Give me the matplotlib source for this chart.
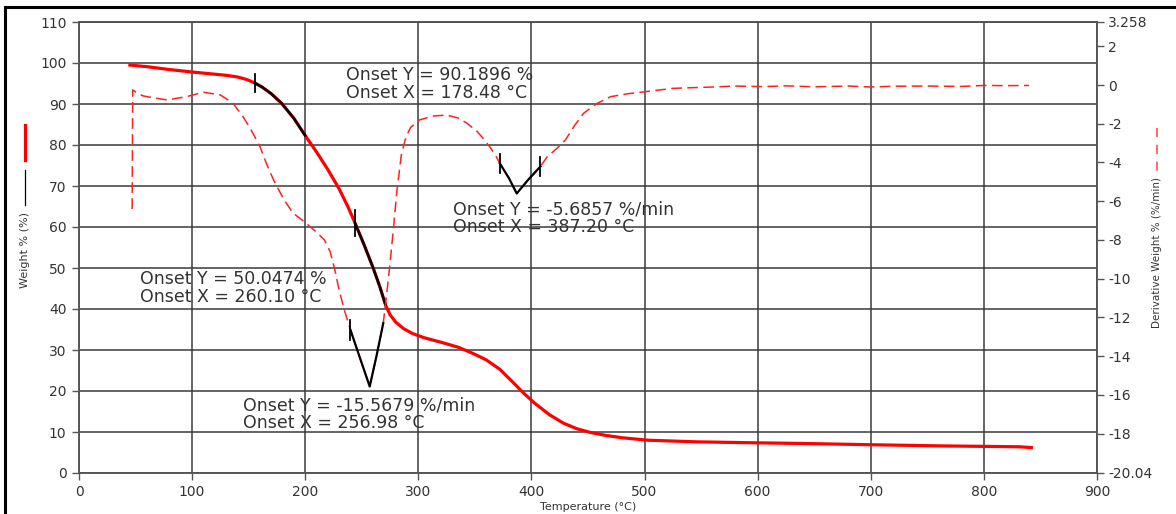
import numpy as np
import matplotlib.pyplot as plt
from matplotlib.lines import Line2D
from matplotlib.patches import Rectangle

plt.rcParams['font.family'] = 'DejaVu Sans'
plt.rcParams['axes.unicode_minus'] = False

# weight % curve (left axis)
temp_w = [45, 60, 80, 100, 115, 130, 140, 148, 155, 162, 170, 179, 190, 200, 210,
          220, 230, 238, 244, 252, 260, 266, 271, 275, 280, 287, 295, 305, 320,
          335, 348, 360, 372, 383, 393, 403, 416, 428, 440, 452, 465, 480, 503,
          546, 590, 640, 699, 765, 831, 842]
weight = [99.5, 99.1, 98.4, 97.8, 97.4, 97.0, 96.6, 96.0, 95.2, 94.1, 92.5, 90.2,
          86.5, 82.3, 78.3, 74.0, 69.3, 64.8, 61.0, 55.7, 50.05, 45.4, 41.0, 38.6,
          36.8, 35.2, 34.0, 33.0, 31.9, 30.7, 29.2, 27.6, 25.3, 22.3, 19.5, 17.0,
          14.2, 12.2, 10.8, 9.9, 9.2, 8.6, 8.0, 7.6, 7.4, 7.2, 6.9, 6.6, 6.4, 6.2]

# derivative weight curve (right axis)
temp_d = [47, 47.5, 50, 56, 63, 78, 95, 110, 125, 136, 145, 152, 160, 166, 172,
          181, 189, 200, 210, 217, 222, 226, 230, 235, 240, 249, 257, 263, 269,
          272, 275, 278, 281, 285, 289, 293, 301, 313, 325, 335, 343, 352, 358,
          363, 368, 372, 380, 387, 397, 408, 414, 422, 430, 438, 446, 458, 470,
          485, 501, 525, 560, 580, 604, 625, 650, 680, 700, 720, 750, 780, 800,
          820, 840]
deriv = [-6.4, -0.25, -0.35, -0.55, -0.63, -0.77, -0.6, -0.37, -0.51, -0.93, -1.63,
         -2.3, -3.18, -4.1, -4.9, -5.9, -6.6, -7.1, -7.6, -8.0, -8.6, -9.5, -10.6,
         -11.7, -12.65, -14.2, -15.57, -14.0, -12.3, -10.8, -9.2, -7.4, -5.5,
         -3.6, -2.7, -2.2, -1.8, -1.6, -1.55, -1.7, -1.97, -2.4, -2.8, -3.18,
         -3.6, -4.04, -4.8, -5.6, -4.9, -4.2, -3.7, -3.3, -2.84, -2.1, -1.46,
         -0.95, -0.6, -0.45, -0.34, -0.17, -0.1, -0.05, -0.08, -0.04, -0.09,
         -0.05, -0.1, -0.06, -0.05, -0.07, -0.02, -0.03, -0.02]

x_ticks = list(range(0, 1000, 100))
w_ticks = list(range(0, 120, 10))
d_ticks = [-20.04, -18, -16, -14, -12, -10, -8, -6, -4, -2, 0, 2, 3.258]
d_labels = ['-20.04', '-18', '-16', '-14', '-12', '-10', '-8', '-6', '-4', '-2',
            '0', '2', '3.258']

# onset analysis ranges (start, end)
onset_w = [(155.5, 200), (244, 271)]
onset_d = [(240, 269), (372, 408)]
labels_w = ['Onset Y = 90.1896 %\nOnset X = 178.48 °C',
            'Onset Y = 50.0474 %\nOnset X = 260.10 °C']
labels_d = ['Onset Y = -15.5679 %/min\nOnset X = 256.98 °C',
            'Onset Y = -5.6857 %/min\nOnset X = 387.20 °C']

W, H = 1176, 514
fig = plt.figure(figsize=(W / 100, H / 100), dpi=100)
ax = fig.add_axes([79 / W, 1 - 473 / H, (1097 - 79) / W, (473 - 22) / H])
ax2 = ax.twinx()

grid_c = '#3a3a3a'
txt_c = '#333333'

ax.plot(temp_w, weight, color='#ff0000', lw=2.3, zorder=3)
ax2.plot(temp_d, deriv, color='#ff2020', lw=1.1, dashes=(7, 3.5), zorder=3)


def overlay(a, T, V, lo, hi, lw, tick_h, ticks):
    T = np.array(T)
    V = np.array(V)
    m = (T > lo) & (T < hi)
    xs = np.concatenate([[lo], T[m], [hi]])
    ys = np.interp(xs, T, V)
    a.plot(xs, ys, color='black', lw=lw, zorder=4)
    for t in ticks:
        v = np.interp(t, T, V)
        a.plot([t, t], [v - tick_h, v + tick_h], color='black', lw=1.3, zorder=4)


overlay(ax, temp_w, weight, *onset_w[0], 1.8, 2.2, [onset_w[0][0]])
overlay(ax, temp_w, weight, *onset_w[1], 1.8, 3.2, [onset_w[1][0]])
overlay(ax2, temp_d, deriv, *onset_d[0], 1.6, 0.5, [onset_d[0][0]])
overlay(ax2, temp_d, deriv, *onset_d[1], 1.6, 0.5, list(onset_d[1]))

ann_kw = dict(fontsize=12.5, color=txt_c, va='center', ha='left', linespacing=1.0, zorder=2)
ax.text(236, 95.0, labels_w[0], **ann_kw)
ax.text(54, 45.0, labels_w[1], **ann_kw)
ax.text(144.7, 14.3, labels_d[0], **ann_kw)
ax.text(331, 62.1, labels_d[1], **ann_kw)

ax.set_xlim(0, 900)
ax.set_ylim(0, 110)
ax2.set_ylim(-20.04, 3.258)
ax.set_xticks(x_ticks)
ax.set_yticks(w_ticks)
ax2.set_yticks(d_ticks)
ax2.set_yticklabels(d_labels)

ax.grid(True, color=grid_c, lw=1.1)
ax.set_axisbelow(True)
for a in (ax, ax2):
    for s in a.spines.values():
        s.set_color('#555555')
        s.set_linewidth(1.1)
    a.tick_params(direction='out', length=5, width=1, color='#555555',
                  labelcolor=txt_c, labelsize=10)
ax.spines['top'].set_color(grid_c)
ax.tick_params(axis='y', pad=4)
ax2.tick_params(axis='y', pad=3)

ax.set_xlabel('Temperature (°C)', fontsize=8, color=txt_c, labelpad=2)
fig.text(25 / W, 1 - 250 / H, 'Weight % (%)', rotation=90, fontsize=8,
         color=txt_c, ha='center', va='center')
fig.text(1157 / W, 1 - 252 / H, 'Derivative Weight % (%/min)', rotation=90,
         fontsize=7.5, color=txt_c, ha='center', va='center')

# legend line swatches next to the axis titles
fig.add_artist(Line2D([25 / W, 25 / W], [1 - 125 / H, 1 - 160 / H],
                      color='#ff0000', lw=2.3))
fig.add_artist(Line2D([25 / W, 25 / W], [1 - 170 / H, 1 - 205 / H],
                      color='black', lw=0.9))
fig.add_artist(Line2D([1157 / W, 1157 / W], [1 - 128 / H, 1 - 172 / H],
                      color='#ff4040', lw=1.1, dashes=(6, 5)))

# outer frame of the screenshot
fig.add_artist(Rectangle((5 / W, -0.1), 1.2, 1.1 - 7 / H, fill=False,
                         edgecolor='black', lw=2.2, transform=fig.transFigure))

fig.savefig('out.png', dpi=100)
